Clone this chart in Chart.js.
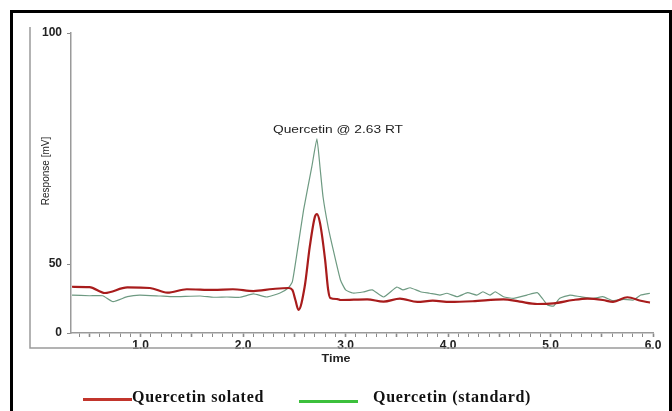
<!DOCTYPE html>
<html>
<head>
<meta charset="utf-8">
<script src="https://cdn.jsdelivr.net/npm/chart.js@4.4.1/dist/chart.umd.min.js"></script>
<style>
  html, body { margin: 0; padding: 0; background: #fff; }
  #wrap { position: relative; width: 672px; height: 411px; overflow: hidden; }
  #legend span { position: absolute; font-family: "Liberation Serif", "Times New Roman", serif; font-weight: bold; font-size: 16px; color: #111; white-space: nowrap; letter-spacing: 0.7px; }
  #legend i { position: absolute; height: 3px; }
</style>
</head>
<body>
<div id="wrap">
  <canvas id="chromatogram" width="672" height="411"></canvas>
  <div id="legend">
    <i style="left:83px;top:398px;width:49px;background:#c2352c"></i>
    <span style="left:132px;top:388px">Quercetin solated</span>
    <i style="left:299px;top:400px;width:59px;background:#3cc03c"></i>
    <span style="left:373px;top:388px">Quercetin (standard)</span>
  </div>
</div>
<script>
// isolated sample trace (time in min, response in mV)
const redTime = [0.33, 0.50, 0.65, 0.87, 1.09, 1.26, 1.45, 1.71, 1.90, 2.10, 2.29, 2.44, 2.48, 2.51, 2.54, 2.60, 2.65, 2.70, 2.72, 2.75, 2.80, 2.83, 2.85, 2.92, 2.95, 3.21, 3.37, 3.53, 3.70, 3.85, 4.02, 4.24, 4.54, 4.70, 4.87, 5.03, 5.22, 5.36, 5.51, 5.61, 5.75, 5.88, 5.97];
const redResp = [33.5, 33.3, 29.0, 33.0, 32.6, 29.2, 31.7, 31.2, 31.7, 30.4, 31.9, 32.6, 31.2, 23.9, 16.7, 33.3, 53.7, 60.2, 60.8, 58.9, 50.9, 31.2, 25.4, 24.6, 23.9, 24.4, 22.7, 24.9, 22.5, 23.4, 22.5, 23.0, 24.4, 22.7, 21.0, 21.5, 23.9, 24.9, 23.9, 22.5, 25.9, 23.4, 22.0];

// standard trace
const greenTime = [0.33, 0.50, 0.63, 0.73, 0.87, 0.99, 1.19, 1.32, 1.58, 1.71, 1.84, 1.97, 2.10, 2.23, 2.36, 2.44, 2.48, 2.53, 2.59, 2.67, 2.72, 2.75, 2.78, 2.83, 2.88, 2.95, 3.00, 3.07, 3.17, 3.26, 3.37, 3.50, 3.56, 3.63, 3.73, 3.82, 3.92, 3.99, 4.09, 4.19, 4.28, 4.34, 4.41, 4.46, 4.54, 4.64, 4.77, 4.87, 4.92, 4.97, 5.03, 5.09, 5.19, 5.29, 5.42, 5.51, 5.61, 5.71, 5.81, 5.88, 5.97];
const greenResp = [27.5, 27.0, 27.0, 22.7, 26.3, 27.5, 26.8, 26.3, 26.8, 25.9, 26.1, 25.9, 28.3, 26.1, 29.0, 32.6, 37.0, 53.0, 61.7, 71.0, 77.1, 71.0, 64.5, 58.0, 53.0, 38.4, 31.2, 29.0, 29.7, 31.2, 26.1, 33.3, 31.2, 32.8, 29.9, 28.8, 27.5, 28.8, 26.3, 29.2, 27.5, 29.9, 27.5, 29.9, 26.3, 25.1, 27.5, 29.2, 25.1, 20.3, 19.6, 25.1, 27.5, 26.3, 25.1, 26.3, 23.4, 24.4, 23.9, 27.5, 28.8];

const yTicks = [0, 50, 100];
const xLabelled = [1, 2, 3, 4, 5, 6];
const seriesNames = ['Quercetin solated', 'Quercetin (standard)'];
const peakNote = 'Quercetin @ 2.63 RT';

// the original response axis is squeezed below 50 mV
const yBreak = 50;
const breakFrac = 0.23;

class SplitLinearScale extends Chart.LinearScale {
  getPixelForValue(value) {
    const d = value <= yBreak
      ? value / yBreak * breakFrac
      : breakFrac + (value - yBreak) / (this.max - yBreak) * (1 - breakFrac);
    return this.getPixelForDecimal(d);
  }
  getValueForPixel(pixel) {
    const d = this.getDecimalForPixel(pixel);
    return d <= breakFrac
      ? d / breakFrac * yBreak
      : yBreak + (d - breakFrac) / (1 - breakFrac) * (this.max - yBreak);
  }
}
SplitLinearScale.id = 'splitLinear';
SplitLinearScale.defaults = Chart.LinearScale.defaults;
Chart.register(SplitLinearScale);

const toPoints = (xs, ys) => xs.map((x, i) => ({ x: x, y: ys[i] }));

// frame, axis titles and the peak note
const decor = {
  id: 'decor',
  afterDraw(chart) {
    const ctx = chart.ctx;
    ctx.save();
    ctx.strokeStyle = '#000';
    ctx.lineWidth = 3;
    ctx.beginPath();
    ctx.moveTo(11.5, 411); ctx.lineTo(11.5, 11.5); ctx.lineTo(670.5, 11.5); ctx.lineTo(670.5, 411);
    ctx.stroke();

    ctx.strokeStyle = '#9a9a9a';
    ctx.lineWidth = 1.5;
    ctx.beginPath();
    ctx.moveTo(30, 27); ctx.lineTo(30, 348); ctx.lineTo(654, 348);
    ctx.stroke();

    ctx.fillStyle = '#222';
    ctx.textAlign = 'center';
    ctx.textBaseline = 'middle';
    ctx.font = '10px "Liberation Sans", Arial, sans-serif';
    ctx.save();
    ctx.translate(46, 171);
    ctx.rotate(-Math.PI / 2);
    ctx.fillText('Response [mV]', 0, 0);
    ctx.restore();

    ctx.font = 'bold 10px "Liberation Sans", Arial, sans-serif';
    ctx.save();
    ctx.translate(336, 359);
    ctx.scale(1.25, 1);
    ctx.fillText('Time', 0, 0);
    ctx.restore();

    ctx.font = '10px "Liberation Sans", Arial, sans-serif';
    const w = ctx.measureText(peakNote).width;
    ctx.save();
    ctx.translate(338, 130);
    ctx.scale(130 / w, 1);
    ctx.fillText(peakNote, 0, 0);
    ctx.restore();
    ctx.restore();
  }
};

const ctx = document.getElementById('chromatogram').getContext('2d');
new Chart(ctx, {
  type: 'line',
  data: {
    datasets: [
      {
        label: seriesNames[0],
        data: toPoints(redTime, redResp),
        borderColor: '#a81c1c',
        borderWidth: 2.2,
        pointRadius: 0,
        cubicInterpolationMode: 'monotone'
      },
      {
        label: seriesNames[1],
        data: toPoints(greenTime, greenResp),
        borderColor: '#6e9a82',
        borderWidth: 1.2,
        pointRadius: 0,
        tension: 0.15
      }
    ]
  },
  options: {
    responsive: false,
    animation: false,
    layout: { padding: { left: 0, top: 33, right: 19, bottom: 0 } },
    plugins: { legend: { display: false }, tooltip: { enabled: false } },
    scales: {
      x: {
        type: 'linear',
        min: 0.32,
        max: 6.0,
        afterBuildTicks: (scale) => {
          const t = [];
          for (let i = 4; i <= 60; i++) t.push({ value: i / 10 });
          scale.ticks = t;
        },
        afterFit: (scale) => { scale.height = 78; },
        grid: {
          drawOnChartArea: false,
          tickLength: 4,
          color: '#8a8a8a',
          tickWidth: (c) => (c.tick && Math.abs(c.tick.value * 2 - Math.round(c.tick.value * 2)) < 1e-6 ? 1.6 : 1)
        },
        border: { color: '#9a9a9a', width: 1.5 },
        ticks: {
          autoSkip: false,
          maxRotation: 0,
          minRotation: 0,
          padding: 1,
          color: '#222',
          font: { family: '"Liberation Sans", Arial, sans-serif', size: 12, weight: 'bold' },
          callback: (v) => (xLabelled.some((m) => Math.abs(m - v) < 1e-6) ? Number(v).toFixed(1) : '')
        }
      },
      y: {
        type: 'splitLinear',
        min: 0,
        max: 100,
        afterBuildTicks: (scale) => { scale.ticks = yTicks.map((v) => ({ value: v })); },
        afterFit: (scale) => { scale.width = 71; },
        grid: { drawOnChartArea: false, tickLength: 4, color: '#8a8a8a' },
        border: { color: '#9a9a9a', width: 1.5 },
        ticks: {
          padding: 5,
          color: '#222',
          font: { family: '"Liberation Sans", Arial, sans-serif', size: 12, weight: 'bold' },
          callback: (v) => String(v)
        }
      }
    }
  },
  plugins: [decor]
});
</script>
</body>
</html>
